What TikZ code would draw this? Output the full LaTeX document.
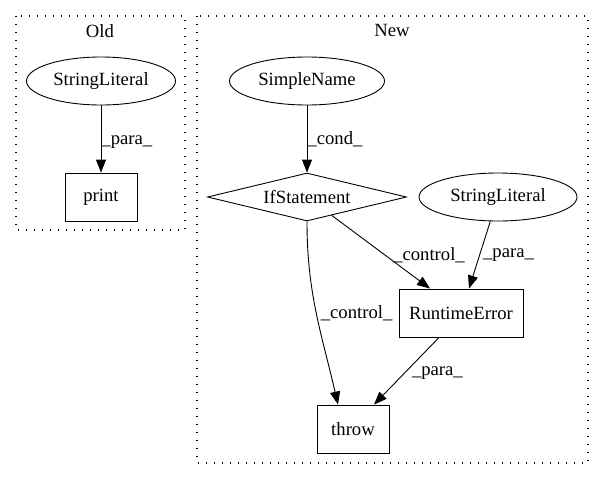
\documentclass[tikz,border=0pt]{standalone}
\usepackage{fontspec}
\setmainfont{Liberation Serif}
\usetikzlibrary{shapes.geometric,arrows.meta}
\begin{document}
\begin{tikzpicture}[x=1pt, y=-1pt, line width=0.9pt,
    every node/.style={draw, font=\fontsize{18.67}{22}\selectfont, inner sep=0pt},
    ell/.style={ellipse, minimum height=48pt},
    box/.style={rectangle, minimum height=48pt},
    lbl/.style={draw=none, anchor=west},
    cluster/.style={line width=1.3pt, dash pattern=on 1.4pt off 6.6pt},
    >={Triangle[length=13pt, width=10pt]}]
    \useasboundingbox (0,0) rectangle (604,480);
    % clusters
    \draw[cluster] (16,16) rectangle (185,230);
    \draw[cluster] (197,16) rectangle (588,463);
    \node[draw=none] (old) at (100,31) {Old};
    \node[draw=none] (new) at (392,30) {New};
    % old
    \node[ell, minimum width=149pt] (strold) at (101,81) {StringLiteral};
    \node[box, minimum width=72pt] (print) at (101,197) {print};
    % new
    \node[ell, minimum width=155pt] (simple) at (307,81) {SimpleName};
    \node[diamond, minimum width=199pt, minimum height=48pt, aspect=4] (ifst) at (307,197) {IfStatement};
    \node[ell, minimum width=158pt] (strnew) at (498,197) {StringLiteral};
    \node[box, minimum width=124pt] (rte) at (461,313) {RuntimeError};
    \node[box, minimum width=72pt] (thr) at (353,429) {throw};
    % edges
    \draw[->] (strold) -- (print) node[lbl, pos=0.55, xshift=0pt] {\_para\_};
    \draw[->] (simple) -- (ifst) node[lbl, pos=0.5] {\_cond\_};
    \draw[->] (ifst) -- ([xshift=-31pt]rte.north) node[lbl, pos=0.54, xshift=8pt] {\_control\_};
    \draw[->] (strnew) -- ([xshift=8pt]rte.north) node[lbl, pos=0.5, xshift=3pt] {\_para\_};
    \draw[->] (ifst.south) to[out=-90, in=103] node[lbl, pos=0.5, xshift=4pt] {\_control\_} ([xshift=-15pt]thr.north);
    \draw[->] ([xshift=-22pt]rte.south) -- ([xshift=21pt]thr.north) node[lbl, pos=0.53, xshift=7pt] {\_para\_};
\end{tikzpicture}
\end{document}
